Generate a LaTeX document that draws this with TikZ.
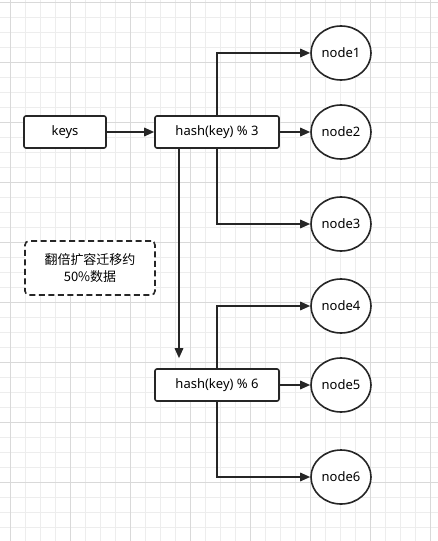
\documentclass[tikz,border=0pt]{standalone}
\usepackage{fontspec}
\setmainfont{Noto Sans}
\newfontfamily\cjk{Noto Sans CJK SC}
\usetikzlibrary{arrows.meta,shapes.geometric}
\tikzset{
  boxnode/.style={draw=black!85, rounded corners=2pt, line width=1.6pt, minimum width=124pt, minimum height=32pt, inner sep=0pt, font=\fontsize{13}{15}\selectfont, fill=white},
  ellnode/.style={draw=black!85, ellipse, line width=1.6pt, minimum width=60pt, minimum height=54pt, inner sep=0pt, font=\fontsize{13}{15}\selectfont, fill=white},
  arr/.style={draw=black!85, line width=1.6pt, -{Triangle[length=10pt,width=8.5pt]}},
}
\begin{document}
\begin{tikzpicture}[x=1pt,y=-1pt]
\useasboundingbox (0,0) rectangle (438,541);
\fill[white] (0,0) rectangle (438,541);
% grid
\foreach \x in {10,25,...,438} \draw[black!7, line width=0.5pt] (\x,0) -- (\x,541);
\foreach \y in {2,17,...,541} \draw[black!7, line width=0.5pt] (0,\y) -- (438,\y);
\foreach \x in {10,70,...,438} \draw[black!15, line width=0.6pt] (\x,0) -- (\x,541);
\foreach \y in {2,62,...,541} \draw[black!15, line width=0.6pt] (0,\y) -- (438,\y);

\node[boxnode, minimum width=82pt] (keys) at (65,132) {keys};
\node[boxnode] (h3) at (217,132) {hash(key) \% 3};
\node[boxnode] (h6) at (217,385) {hash(key) \% 6};
\node[ellnode] (n1) at (341,53) {node1};
\node[ellnode] (n2) at (341,132) {node2};
\node[ellnode] (n3) at (341,224) {node3};
\node[ellnode] (n4) at (341,306) {node4};
\node[ellnode] (n5) at (341,385) {node5};
\node[ellnode] (n6) at (341,477) {node6};
\node[draw=black!85, dash pattern=on 6pt off 3.5pt, line width=1.6pt, rounded corners=4pt, minimum width=130pt, minimum height=54pt, align=center, font=\cjk\fontsize{13}{17}\selectfont, fill=white] (note) at (90,268) {翻倍扩容迁移约\\50\%数据};

\draw[arr] (keys) -- (h3);
\draw[arr] (h3) -- (n2);
\draw[arr] (h3.north) |- (n1.west);
\draw[arr] (h3.south) |- (n3.west);
\coordinate (dtip) at ([xshift=-38pt,yshift=10pt]h6.north);
\draw[arr] ([xshift=-38pt]h3.south) -- (dtip);
\draw[arr] (h6) -- (n5);
\draw[arr] (h6.north) |- (n4.west);
\draw[arr] (h6.south) |- (n6.west);
\end{tikzpicture}
\end{document}
